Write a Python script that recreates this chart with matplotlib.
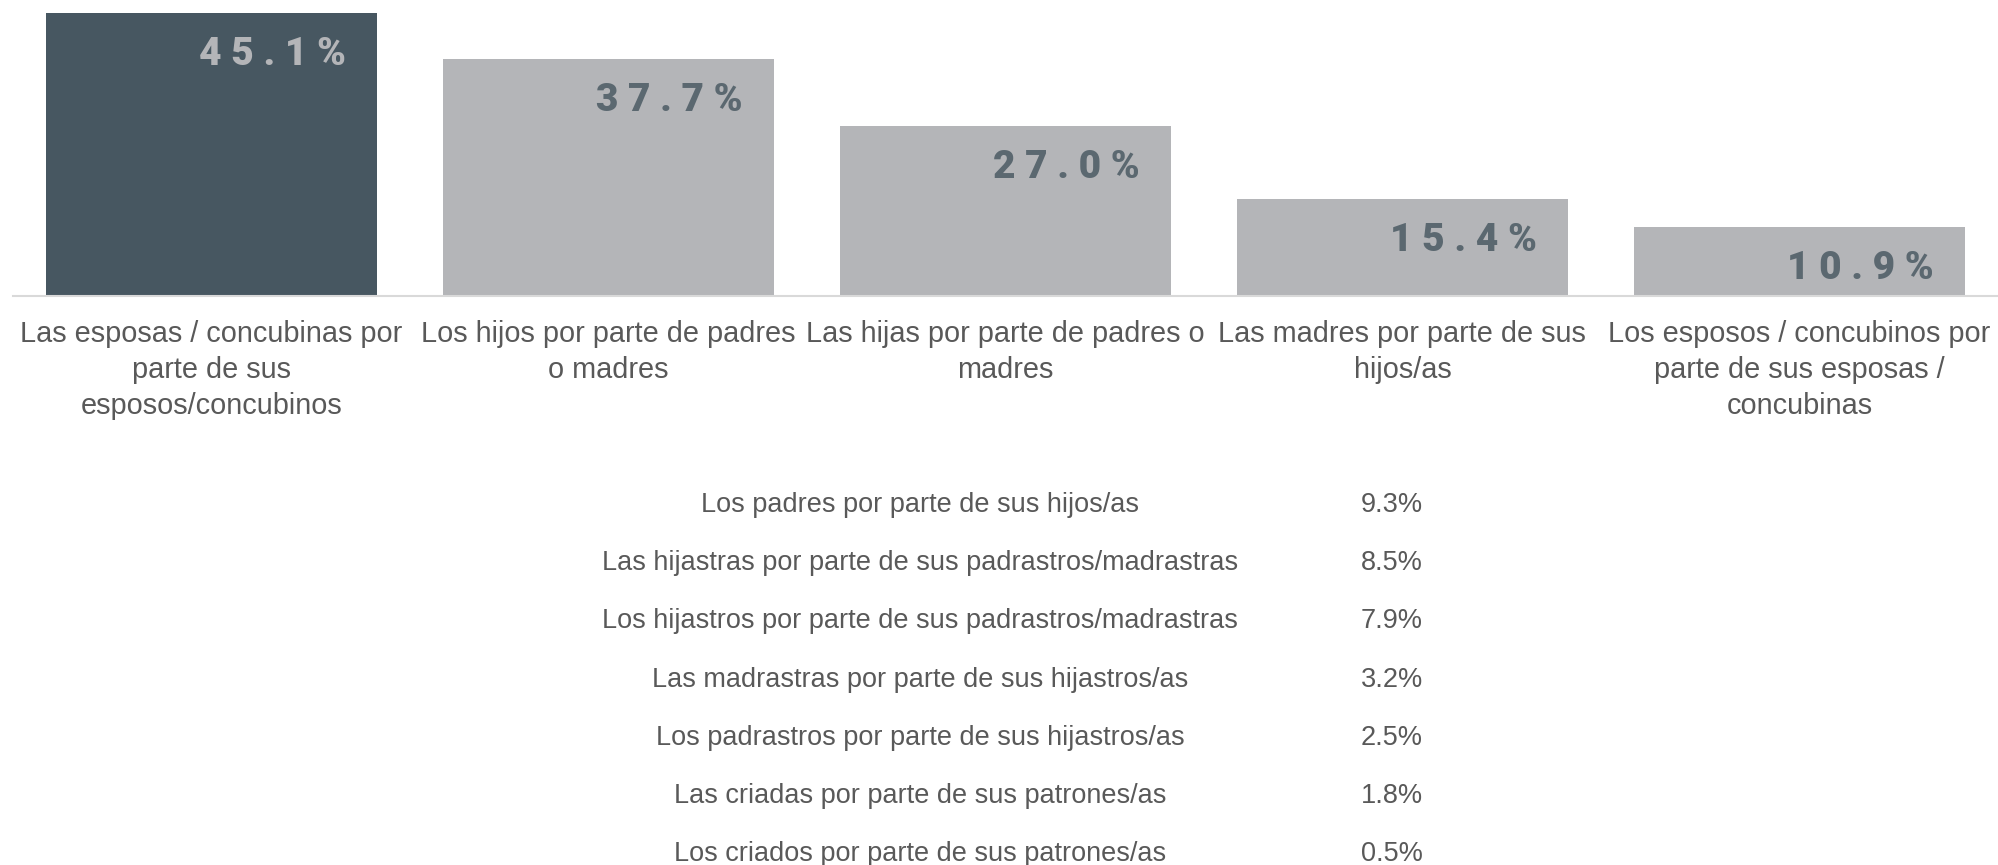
import matplotlib
matplotlib.use("Agg")
import matplotlib.pyplot as plt

# Datos: grupos principales (barras)
categorias = [
    "Las esposas / concubinas por\nparte de sus\nesposos/concubinos",
    "Los hijos por parte de padres\no madres",
    "Las hijas por parte de padres o\nmadres",
    "Las madres por parte de sus\nhijos/as",
    "Los esposos / concubinos por\nparte de sus esposas /\nconcubinas",
]
porcentajes = [45.1, 37.7, 27.0, 15.4, 10.9]

# Datos: resto de grupos (lista)
otros_grupos = [
    "Los padres por parte de sus hijos/as",
    "Las hijastras por parte de sus padrastros/madrastras",
    "Los hijastros por parte de sus padrastros/madrastras",
    "Las madrastras por parte de sus hijastros/as",
    "Los padrastros por parte de sus hijastros/as",
    "Las criadas por parte de sus patrones/as",
    "Los criados por parte de sus patrones/as",
]
otros_porcentajes = [9.3, 8.5, 7.9, 3.2, 2.5, 1.8, 0.5]

# Colores
OSCURO = "#475761"
GRIS = "#b4b5b8"
TXT_VALOR = "#5b6870"
TXT = "#595959"
LINEA = "#d9d9d9"

W, H = 1998, 865
fig = plt.figure(figsize=(W / 100, H / 100), dpi=100)

# --- grafico de barras ---
ax = fig.add_axes([12.75 / W, 1 - 295.6 / H, 1 - 12.75 / W, 295.6 / H])
x = list(range(len(porcentajes)))
ancho = 0.833
colores = [OSCURO] + [GRIS] * (len(porcentajes) - 1)
ax.bar(x, porcentajes, width=ancho, color=colores, zorder=2)
ax.set_xlim(-0.5, len(porcentajes) - 0.5)
ax.set_ylim(0, 47.14)

for i, v in enumerate(porcentajes):
    etiqueta = " ".join(f"{v:.1f}%")
    col = GRIS if i == 0 else TXT_VALOR
    ax.annotate(etiqueta, xy=(i + ancho / 2, v), xytext=(-22.3, -30),
                textcoords="offset points", ha="right", va="center",
                fontsize=28, fontweight="heavy", color=col,
                family=["Roboto", "DejaVu Sans"])

for s in ["top", "left", "right"]:
    ax.spines[s].set_visible(False)
ax.spines["bottom"].set_color(LINEA)
ax.spines["bottom"].set_linewidth(1.5)
ax.set_yticks([])
ax.set_xticks(x)
ax.set_xticklabels(categorias, fontsize=20.8, color=TXT, linespacing=1.36,
                   family=["Liberation Sans", "DejaVu Sans"])
ax.tick_params(axis="x", length=0, pad=17.8)

# --- lista del resto de grupos ---
ax2 = fig.add_axes([0, 1 - 883.3 / H, 1, (883.3 - 475.9) / H])
ax2.set_xlim(0, 1)
ax2.set_ylim(len(otros_grupos) - 0.5, -0.5)
ax2.axis("off")
for i, (nombre, v) in enumerate(zip(otros_grupos, otros_porcentajes)):
    ax2.text(920 / W, i, nombre, ha="center", va="center", fontsize=19.5,
             color=TXT, family=["Liberation Sans", "DejaVu Sans"])
    ax2.text(1423 / W, i, f"{v:.1f}%", ha="right", va="center", fontsize=19.5,
             color=TXT, family=["Liberation Sans", "DejaVu Sans"])

fig.savefig("out.png", dpi=100)
